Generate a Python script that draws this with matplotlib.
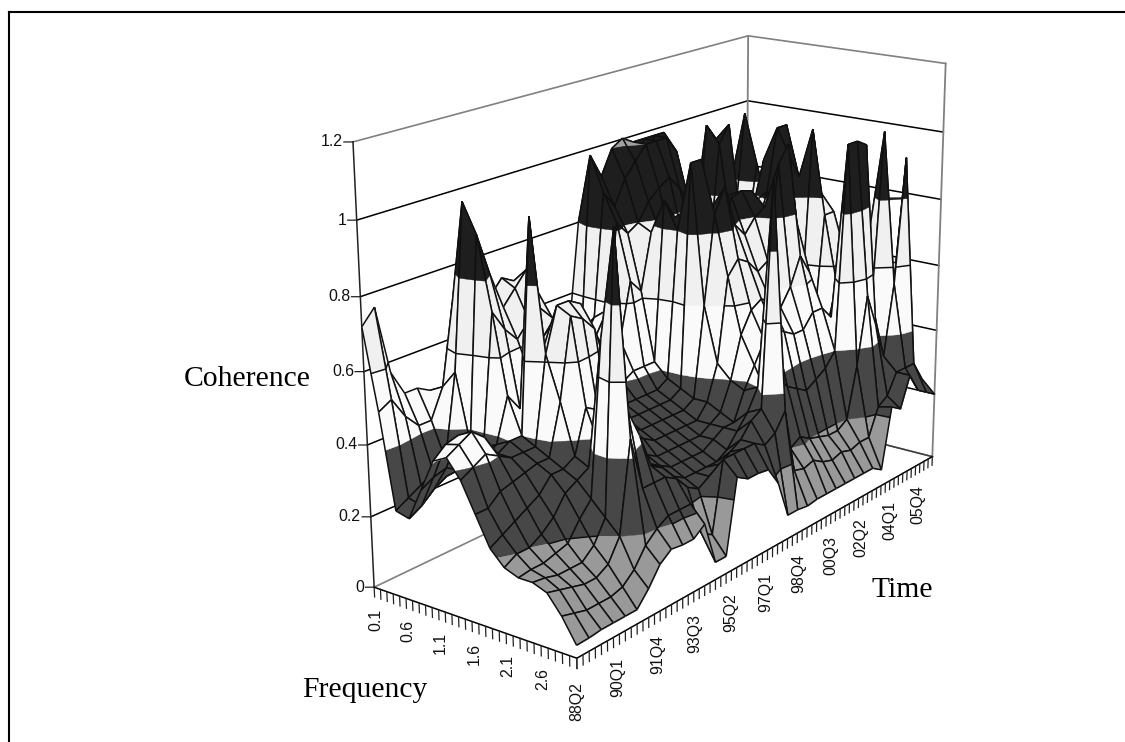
import matplotlib
matplotlib.use('Agg')
import matplotlib.pyplot as plt
import numpy as np
from matplotlib.lines import Line2D
from mpl_toolkits.mplot3d import proj3d
from mpl_toolkits.mplot3d.art3d import Poly3DCollection, Line3DCollection

W, H = 1125, 742

# quarters since 88Q2 (every second quarter is kept) and frequencies
quarters = list(range(0, 71, 2))
freqs = [0.1, 0.3, 0.5, 0.7, 0.9, 1.1, 1.3, 1.5, 1.7, 1.9, 2.1, 2.3, 2.5, 2.7, 2.9, 3.1]

time_ticks = [0, 7, 14, 21, 28, 35, 42, 49, 56, 63, 70]
time_labels = ['88Q2', '90Q1', '91Q4', '93Q3', '95Q2', '97Q1', '98Q4', '00Q3', '02Q2', '04Q1', '05Q4']
freq_ticks = [0.1, 0.6, 1.1, 1.6, 2.1, 2.6]
z_ticks = [0, 0.2, 0.4, 0.6, 0.8, 1.0, 1.2]
z_labels = ['0', '0.2', '0.4', '0.6', '0.8', '1', '1.2']

# coherence, one row per frequency (back to front)
coherence = [
    [.72, .76, .57, .50, .50, .48, .44, .55, .58, .60, .58, .50, .44, .42, .42, .44, .46, .50, .80, .70, .78, .75, .72, .70, .65, .60, .58, .56, .58, .60, .62, .60, .58, .56, .55, .50],
    [.50, .52, .46, .42, .42, .50, .72, .66, .62, .66, .68, .52, .46, .44, .44, .45, .46, .50, 1.0, .93, 1.0, 1.02, 1.0, 1.0, 1.0, 1.0, .65, .60, .70, .75, .75, .70, .80, .75, .65, .55],
    [.24, .26, .28, .30, .32, .55, 1.0, .85, .72, .76, .74, .62, .52, .46, .46, .48, .50, .55, .90, .85, .92, .96, 1.0, 1.0, 1.0, .95, .75, .62, 1.0, .95, .70, .68, 1.0, .75, .70, .58],
    [.23, .25, .28, .30, .32, .36, .92, .80, .70, .74, .78, .70, .60, .52, .50, .50, .52, .58, .82, .78, .80, .85, .88, .90, .86, .80, .72, .62, .95, 1.0, .68, .66, .85, .70, .66, .56],
    [.32, .34, .35, .33, .33, .36, .72, .66, .62, .66, .68, .64, .58, .52, .48, .46, .46, .50, .66, .62, .78, .76, .72, .74, .72, .68, .62, .60, .70, .70, .70, .72, .70, .66, .60, .52],
    [.41, .44, .45, .40, .36, .38, .50, .45, .52, .62, .66, .60, .52, .46, .42, .40, .40, .42, .42, .42, .88, .82, .68, .70, .72, .70, .66, .62, .68, .78, .90, .75, .68, .62, .58, .50],
    [.43, .45, .47, .44, .38, .40, .40, .98, .62, .68, .70, .62, .50, .42, .38, .36, .36, .36, .36, .38, .80, .85, .82, .75, .85, .85, .80, .74, .72, .82, 1.0, 1.0, .72, .62, .56, .48],
    [.38, .40, .42, .40, .38, .38, .38, .62, .74, .74, .72, .62, .46, .38, .34, .34, .34, .34, .34, .36, 1.0, 1.0, .85, .78, .86, .87, .86, .78, .70, .72, .92, .85, .70, .60, .52, .46],
    [.30, .30, .33, .34, .35, .36, .36, .50, .72, .70, .66, .54, .38, .34, .32, .32, .32, .32, .32, .34, .60, .85, .92, .80, .76, .80, .82, .82, .70, .55, .45, 1.0, .80, .58, .50, .44],
    [.22, .24, .26, .28, .30, .34, .34, .36, .48, .46, .40, .36, .34, .32, .30, .30, .30, .30, .30, .34, .44, .68, .72, .70, .66, .68, .95, 1.0, .76, .55, .42, .75, .75, .55, .46, .30],
    [.18, .20, .20, .22, .25, .30, .32, .34, .38, .36, .32, .32, .30, .28, .28, .28, .28, .28, .30, .32, .40, .52, .58, .60, .58, .55, .60, .68, .62, .50, .42, .55, .62, .52, .36, .30],
    [.165, .17, .17, .18, .19, .24, .28, .70, .45, .40, .34, .30, .28, .26, .26, .26, .26, .28, .30, .30, .38, .44, .50, .52, .50, .48, .48, .52, .52, .48, .44, .50, .62, .68, .36, .30],
    [.165, .16, .15, .15, .15, .18, .24, 1.0, .50, .42, .32, .30, .26, .24, .24, .24, .24, .26, .30, .34, .40, .36, .40, .36, .34, .32, .34, .36, .40, 1.0, 1.0, .98, .50, 1.0, .34, .28],
    [.15, .14, .13, .12, .12, .14, .20, .45, .30, .30, .30, .28, .24, .22, .24, .26, .28, .30, .34, .36, 1.0, .34, .20, .22, .20, .19, .18, .18, .20, .35, .55, .45, .34, .55, .92, .26],
    [.10, .09, .08, .08, .08, .09, .12, .17, .20, .22, .22, .22, .12, .10, .30, .30, .30, .30, .28, .30, .35, .16, .15, .16, .14, .13, .14, .13, .14, .14, .22, .24, .30, .30, .30, .24],
    [.035, .036, .04, .04, .04, .04, .08, .13, .155, .15, .15, .175, .05, .05, .26, .24, .24, .235, .18, .07, .07, .065, .07, .07, .07, .07, .07, .07, .07, .05, .23, .21, .30, .24, .22, .20],
]

band_edges = [0, 0.2, 0.4, 0.6, 0.8, 1.0, 1.2]
band_colors = ['#999999', '#474747', '#fafafa', '#f0f0f0', '#1e1e1e', '#a0a0a0']
contour_levels = [0.2, 0.6]


def clip_z(poly, level, keep_above):
    # Sutherland-Hodgman against one z plane
    out = []
    for k in range(len(poly)):
        p, q = poly[k], poly[(k + 1) % len(poly)]
        p_in = p[2] >= level if keep_above else p[2] <= level
        q_in = q[2] >= level if keep_above else q[2] <= level
        if p_in:
            out.append(p)
        if p_in != q_in:
            s = (level - p[2]) / (q[2] - p[2])
            out.append(tuple(p[m] + s * (q[m] - p[m]) for m in range(3)))
    return out


def contour_segment(poly, level):
    pts = []
    for k in range(len(poly)):
        p, q = poly[k], poly[(k + 1) % len(poly)]
        if (p[2] - level) * (q[2] - level) < 0:
            s = (level - p[2]) / (q[2] - p[2])
            pts.append(tuple(p[m] + s * (q[m] - p[m]) for m in range(3)))
    return pts[:2] if len(pts) >= 2 else None


plt.rcParams['font.family'] = ['Liberation Sans', 'DejaVu Sans']
fig = plt.figure(figsize=(W / 100, H / 100), dpi=100, facecolor='white')
ax = fig.add_subplot(projection='3d', computed_zorder=False)
ax.set_position([274.8 / W, 30.6 / H, 772.2 / W, 772.2 / H])
ax.patch.set_visible(False)
ax.set_proj_type('persp', focal_length=0.5498)
ax.view_init(elev=17.98, azim=-142.68, roll=0.21)
ax.set_box_aspect((2.4365, 1, 1.7412))
ax.set_xlim(0, 70)
ax.set_ylim(3.1, 0.1)
ax.set_zlim(0, 1.2)
ax.set_axis_off()

t0, t1 = quarters[0], quarters[-1]
f0, f1 = freqs[0], freqs[-1]

# walls
for lev in z_ticks:
    col = '#808080' if lev in (0, 1.2) else 'black'
    ax.plot([t0, t1, t1], [f0, f0, f1], [lev, lev, lev], color=col, lw=1.1 if col == 'black' else 1.2, zorder=1)
ax.plot([t1, t1], [f0, f0], [0, 1.2], color='#808080', lw=1.3, zorder=1)
ax.plot([t1, t1], [f1, f1], [0, 1.2], color='#808080', lw=1.3, zorder=1)
ax.plot([t1, t1], [f0, f1], [0, 0], color='#404040', lw=1.1, zorder=1)

# surface, painted from the far corner to the near corner
Z = np.array(coherence)
order = 10
for j in range(len(freqs) - 1):
    for i in range(len(quarters) - 2, -1, -1):
        quad = [(quarters[i], freqs[j], Z[j, i]), (quarters[i + 1], freqs[j], Z[j, i + 1]),
                (quarters[i + 1], freqs[j + 1], Z[j + 1, i + 1]), (quarters[i], freqs[j + 1], Z[j + 1, i])]
        zs = [p[2] for p in quad]
        pieces, colors = [], []
        for b, c in enumerate(band_colors):
            # a quad that only touches a band has no area in it
            if max(zs) <= band_edges[b] or min(zs) >= band_edges[b + 1]:
                continue
            piece = clip_z(clip_z(quad, band_edges[b], True), band_edges[b + 1], False)
            if len(piece) >= 3:
                pieces.append(piece)
                colors.append(c)
        pc = Poly3DCollection(pieces, facecolors=colors, edgecolors=colors, linewidths=0.3, zorder=order)
        ax.add_collection3d(pc, autolim=False)
        segs = [[quad[k], quad[(k + 1) % 4]] for k in range(4)]
        for lev in contour_levels:
            seg = contour_segment(quad, lev)
            if seg:
                segs.append(seg)
        lc = Line3DCollection(segs, colors='#101010', linewidths=1.1, zorder=order + 1)
        ax.add_collection3d(lc, autolim=False)
        order += 2

# axes lines and ticks
top = order + 1
ax.plot([t0, t0], [f0, f0], [0, 1.2], color='#222222', lw=1.1, zorder=2)
ax.plot([t0, t0], [f0, f1], [0, 0], color='black', lw=1.1, zorder=top)
ax.plot([t0, t1], [f1, f1], [0, 0], color='black', lw=1.1, zorder=top)

for k in range(31):
    f = 0.1 + 0.1 * k
    ax.plot([t0, t0], [f, f], [0, -0.028], color='#222222', lw=0.9, zorder=top)
for q in range(71):
    ax.plot([q, q], [f1, f1], [0, -0.028], color='#222222', lw=0.9, zorder=top)
for lev in z_ticks:
    ax.plot([t0, t0 - 0.56], [f0, f0 - 0.078], [lev, lev], color='#222222', lw=0.9, zorder=top)

# tick labels: plain 2D text placed at the projected tick position
M = ax.get_proj()


def tick_label(x, y, z, text, dx, dy, rotation=0, ha='center'):
    u, v, _ = proj3d.proj_transform(x, y, z, M)
    ax.annotate(text, xy=(u, v), xytext=(dx, dy), textcoords='offset pixels', rotation=rotation,
                ha=ha, va='center', fontsize=11.4, color='#111111', zorder=top, annotation_clip=False)


for lev, lab in zip(z_ticks, z_labels):
    tick_label(t0, f0, lev, lab, -10, 0, ha='right')
for f in freq_ticks:
    tick_label(t0, f, 0, f'{f:.1f}', 2, -33, rotation=90)
for q, lab in zip(time_ticks, time_labels):
    tick_label(q, f1, 0, lab, -0.2 * q, -43 - 0.07 * q, rotation=90)

# axis titles
serif = dict(family=['Liberation Serif', 'DejaVu Serif'], fontsize=21.3, color='black', va='baseline', ha='left')
fig.text(184 / W, 1 - 386 / H, 'Coherence', **serif)
fig.text(302 / W, 1 - 697 / H, 'Frequency', **serif)
fig.text(871 / W, 1 - 597 / H, 'Time', **serif)

# frame, only left and top are inside the picture
fig.add_artist(Line2D([9 / W, 9 / W], [0, 1 - 12 / H], color='black', lw=1.5))
fig.add_artist(Line2D([9 / W, 1], [1 - 12 / H, 1 - 12 / H], color='black', lw=1.5))

fig.savefig('out.png', dpi=100)
